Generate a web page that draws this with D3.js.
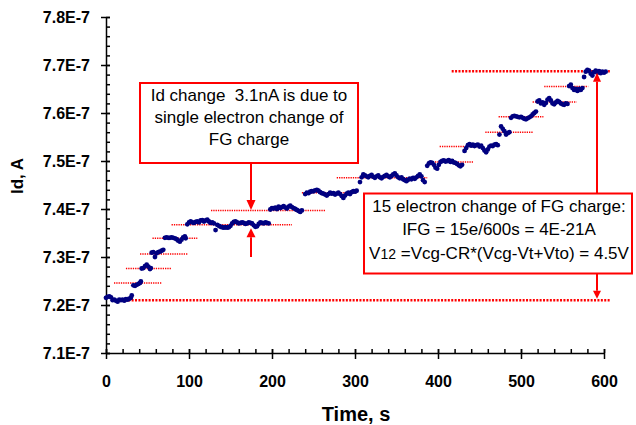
<!DOCTYPE html>
<html>
<head>
<meta charset="utf-8">
<script src="https://cdn.jsdelivr.net/npm/d3@7"></script>
<style>
  body { margin: 0; background: #fff; }
  svg { font-family: Arial, "Liberation Sans", sans-serif; }
  .note { white-space: pre; }
</style>
</head>
<body>
<div id="chart"></div>
<script>
// [time in s, Id in units of 1E-7 A]
const points = [
  // level 0
  [0,7.215],[2,7.217],[4,7.218],[6,7.216],[8,7.210],[10,7.211],[12,7.209],[14,7.207],[16,7.211],[18,7.210],
  [20,7.211],[22,7.209],[24,7.212],[26,7.211],[28,7.213],[30,7.215],[31,7.220],
  // 1
  [33,7.241],[35,7.240],[37,7.242],[39,7.244],[41,7.246],[42,7.249],
  // 2
  [43,7.276],[45,7.277],[47,7.281],[49,7.284],[51,7.280],[53,7.275],[54,7.277],
  // 3
  [55,7.309],[57,7.310],[59,7.300],[61,7.308],[63,7.310],[65,7.311],[67,7.313],[69,7.315],
  // 4
  [71,7.340],[73,7.341],[75,7.340],[77,7.340],[79,7.341],[81,7.340],[83,7.339],[85,7.337],[87,7.334],[89,7.332],
  [91,7.336],[93,7.341],[95,7.343],[96,7.339],
  // 5
  [98,7.368],[100,7.372],[102,7.374],[104,7.372],[106,7.371],[108,7.373],[110,7.374],[112,7.372],[114,7.376],[116,7.377],
  [118,7.374],[120,7.376],[122,7.378],[124,7.374],[126,7.371],[128,7.372],[130,7.370],[132,7.356],[134,7.367],[136,7.365],
  [138,7.363],[140,7.362],[142,7.361],[144,7.362],[146,7.361],[148,7.362],[150,7.365],[152,7.370],[154,7.373],[156,7.374],
  [158,7.372],[160,7.370],[162,7.371],[164,7.372],[166,7.371],[168,7.369],[170,7.370],[172,7.372],[174,7.371],[176,7.370],
  [178,7.366],[180,7.363],[182,7.364],[184,7.369],[186,7.372],[188,7.371],[190,7.370],[192,7.372],[194,7.371],[196,7.370],
  // 6
  [198,7.399],[200,7.402],[202,7.401],[204,7.403],[206,7.400],[208,7.405],[210,7.402],[212,7.404],[214,7.406],[216,7.403],
  [218,7.401],[220,7.405],[222,7.407],[224,7.404],[226,7.402],[228,7.400],[230,7.398],[232,7.396],[234,7.394],[236,7.397],
  // 7
  [240,7.431],[242,7.434],[244,7.433],[246,7.436],[248,7.437],[250,7.437],[252,7.439],[254,7.440],[256,7.438],[258,7.435],
  [260,7.433],[262,7.432],[264,7.430],[266,7.428],[268,7.431],[270,7.434],[272,7.432],[274,7.433],[276,7.430],[278,7.432],
  [280,7.434],[282,7.431],[284,7.427],[286,7.423],[288,7.428],[290,7.432],[292,7.434],[294,7.431],[296,7.435],[298,7.437],
  [300,7.436],[302,7.438],
  // 8
  [306,7.456],[308,7.466],[310,7.472],[312,7.470],[314,7.468],[316,7.466],[318,7.469],[320,7.471],[322,7.467],[324,7.465],
  [326,7.468],[328,7.470],[330,7.466],[332,7.464],[334,7.467],[336,7.469],[338,7.471],[340,7.468],[342,7.466],[344,7.469],
  [346,7.472],[348,7.474],[350,7.470],[352,7.466],[354,7.464],[356,7.466],[358,7.462],[360,7.460],[362,7.458],[364,7.461],
  [366,7.463],[368,7.462],[370,7.465],[372,7.463],[374,7.466],[376,7.469],[378,7.472],[380,7.468],[382,7.460],[384,7.456],
  // 9
  [387,7.490],[389,7.495],[391,7.497],[393,7.496],[395,7.492],[397,7.486],[399,7.484],[401,7.492],[403,7.498],[405,7.500],
  [407,7.501],[409,7.499],[411,7.500],[413,7.502],[415,7.498],[417,7.500],[419,7.497],[421,7.496],[423,7.494],[425,7.491],
  [427,7.489],[429,7.492],
  // 10
  [432,7.521],[434,7.527],[436,7.533],[438,7.535],[440,7.532],[442,7.534],[444,7.531],[446,7.533],[448,7.534],[450,7.530],
  [452,7.532],[454,7.527],[456,7.522],[458,7.518],[460,7.524],[462,7.530],[464,7.532],[466,7.531],[468,7.534],[470,7.535],
  [472,7.533],
  // 11
  [474,7.555],[476,7.572],[478,7.567],[480,7.562],[482,7.555],[484,7.558],[486,7.560],
  // 12
  [488,7.590],[490,7.593],[492,7.594],[494,7.593],[496,7.592],[498,7.591],[500,7.592],[502,7.590],[504,7.588],[506,7.587],
  [508,7.589],[510,7.591],[512,7.593],[514,7.597],[516,7.600],[518,7.603],
  // 13
  [520,7.624],[522,7.626],[524,7.620],[526,7.622],[528,7.617],[530,7.621],[532,7.628],[534,7.631],[536,7.626],[538,7.620],
  [540,7.618],[542,7.622],[544,7.625],[546,7.623],[548,7.620],[550,7.618],[552,7.617],[554,7.620],[556,7.619],
  // 14
  [558,7.656],[560,7.659],[562,7.652],[564,7.648],[566,7.650],[568,7.646],[570,7.650],[572,7.648],[574,7.652],
  // 15
  [576,7.675],[578,7.686],[580,7.690],[582,7.688],[584,7.682],[586,7.678],[588,7.685],[590,7.688],[592,7.684],[594,7.687],
  [596,7.683],[598,7.686],[600,7.684],[602,7.686]
];

// red dotted step levels (1E-7 A) and their time spans (s)
const levelValues = [7.210, 7.246, 7.276, 7.306, 7.339, 7.367, 7.397, 7.434, 7.465, 7.498, 7.530, 7.560, 7.592, 7.623, 7.655, 7.687];
const levelStart  = [14.5,  9.6,   24,    41,    56,    79,    126.5, 236,   278,   388,   402,   457,   473,   514,   528,   416.5];
const levelEnd    = [607,   67,    79,    98,    110,   224,   264,   302,   387,   443,   455,   514,   527,   567,   581,   607];

const xTicks = [0, 100, 200, 300, 400, 500, 600];
const yTicks = [7.1, 7.2, 7.3, 7.4, 7.5, 7.6, 7.7, 7.8];
const yTickLabels = ["7.1E-7", "7.2E-7", "7.3E-7", "7.4E-7", "7.5E-7", "7.6E-7", "7.7E-7", "7.8E-7"];

const note1 = ["Id change  3.1nA is due to", "single electron change of", "FG charge"];
const note2 = ["15 electron change of FG charge:", "IFG = 15e/600s = 4E-21A"];

const W = 636, H = 425;
const red = "#ff0000";

const svg = d3.select("#chart").append("svg")
  .attr("width", W)
  .attr("height", H);

const x = d3.scaleLinear().domain([0, 600]).range([106, 604]);
const y = d3.scaleLinear().domain([7.1, 7.8]).range([353, 17]);

// minor ticks
svg.append("g")
  .attr("transform", "translate(106,0)")
  .call(d3.axisRight(y).tickValues(d3.range(7.1, 7.8001, 0.02)).tickSize(4).tickFormat(""))
  .call(g => g.select(".domain").remove())
  .selectAll("line").attr("stroke", "#000").attr("stroke-width", 1.3);

svg.append("g")
  .attr("transform", "translate(0,353)")
  .call(d3.axisTop(x).tickValues(d3.range(0, 601, 20)).tickSize(4).tickFormat(""))
  .call(g => g.select(".domain").remove())
  .selectAll("line").attr("stroke", "#000").attr("stroke-width", 1.3);

// main axes
const yAxis = svg.append("g")
  .attr("transform", "translate(106,0)")
  .call(d3.axisLeft(y).tickValues(yTicks).tickSize(5).tickSizeOuter(0).tickPadding(11)
    .tickFormat((d, i) => yTickLabels[i]));
yAxis.selectAll(".tick line").attr("x1", 4);

const xAxis = svg.append("g")
  .attr("transform", "translate(0,353)")
  .call(d3.axisBottom(x).tickValues(xTicks).tickSize(6).tickSizeOuter(0).tickPadding(17));
xAxis.selectAll(".tick line").attr("y1", -4);

svg.selectAll(".domain, .tick line").attr("stroke", "#000").attr("stroke-width", 1.5);
svg.selectAll(".tick text")
  .attr("fill", "#000")
  .style("font-size", "16px")
  .style("font-weight", "bold")
  .style("font-family", "Arial, 'Liberation Sans', sans-serif");

// axis titles
svg.append("text")
  .attr("x", 356).attr("y", 421)
  .attr("text-anchor", "middle")
  .style("font-size", "20px").style("font-weight", "bold")
  .text("Time, s");

svg.append("text")
  .attr("transform", "translate(23,176) rotate(-90)")
  .attr("text-anchor", "middle")
  .style("font-size", "17px").style("font-weight", "bold")
  .text("Id, A");

// step level lines
const levels = levelValues.map((v, i) => ({ v, t0: levelStart[i], t1: levelEnd[i], main: i === 0 || i === levelValues.length - 1 }));
svg.append("g")
  .selectAll("line")
  .data(levels)
  .join("line")
  .attr("x1", d => x(d.t0))
  .attr("x2", d => x(d.t1))
  .attr("y1", d => y(d.v))
  .attr("y2", d => y(d.v))
  .attr("stroke", red)
  .attr("stroke-width", d => d.main ? 2.5 : 1.5)
  .attr("stroke-dasharray", d => d.main ? "2,1.4" : "1.3,1");

// data
svg.append("g")
  .selectAll("circle")
  .data(points)
  .join("circle")
  .attr("cx", d => x(d[0]))
  .attr("cy", d => y(d[1]))
  .attr("r", 2.4)
  .attr("fill", "#000080");

// arrows
function arrow(ax, yFrom, yTo, hw, hl) {
  const dir = yTo > yFrom ? 1 : -1;
  svg.append("line")
    .attr("x1", ax).attr("x2", ax)
    .attr("y1", yFrom).attr("y2", yTo - dir * hl)
    .attr("stroke", red).attr("stroke-width", 2);
  svg.append("path")
    .attr("d", `M${ax},${yTo} L${ax - hw},${yTo - dir * hl} L${ax + hw},${yTo - dir * hl} Z`)
    .attr("fill", red);
}

// note 1
svg.append("rect")
  .attr("x", 140).attr("y", 83).attr("width", 218).attr("height", 80)
  .attr("fill", "#fff").attr("stroke", red).attr("stroke-width", 2);
svg.append("g").selectAll("text")
  .data(note1)
  .join("text")
  .attr("class", "note")
  .attr("x", 249)
  .attr("y", (d, i) => 100.7 + i * 22.2)
  .attr("text-anchor", "middle")
  .style("font-size", "17px")
  .text(d => d);

arrow(251, 163, y(levelValues[6]) - 0.5, 4.5, 10);
arrow(251, 257, y(levelValues[5]) + 3.5, 4.5, 9);

// note 2
svg.append("rect")
  .attr("x", 364).attr("y", 193.5).attr("width", 268).attr("height", 80)
  .attr("fill", "#fff").attr("stroke", red).attr("stroke-width", 2);
svg.append("g").selectAll("text")
  .data(note2)
  .join("text")
  .attr("class", "note")
  .attr("x", 499)
  .attr("y", (d, i) => 212.3 + i * 23)
  .attr("text-anchor", "middle")
  .style("font-size", "17px")
  .text(d => d);
const v12 = svg.append("text")
  .attr("x", 499).attr("y", 258.5)
  .attr("text-anchor", "middle")
  .style("font-size", "17px");
v12.append("tspan").text("V");
v12.append("tspan").style("font-size", "14px").text("12");
v12.append("tspan").text(" =Vcg-CR*(Vcg-Vt+Vto) = 4.5V");

arrow(597, 193.5, y(levelValues[15]) + 1.5, 4, 9);
arrow(597, 273.5, y(levelValues[0]) - 1.5, 4, 8);
</script>
</body>
</html>
